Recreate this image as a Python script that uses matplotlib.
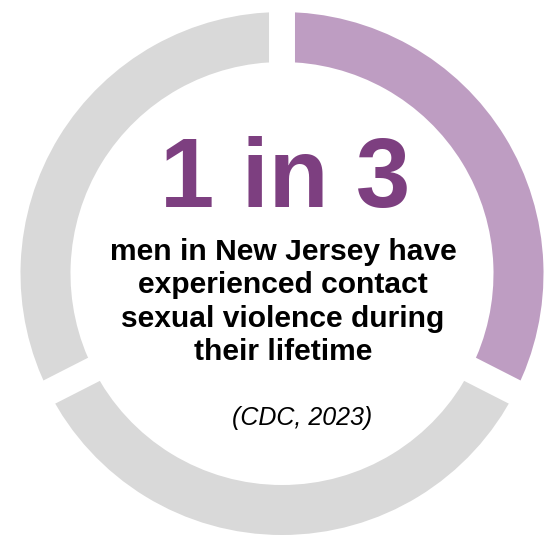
import matplotlib
matplotlib.use("Agg")
import matplotlib.pyplot as plt
import numpy as np

# ring segments, clockwise from 12 o'clock
shares = [0.325, 0.35, 0.325]
colors = ["#BE9DC2", "#D9D9D9", "#D9D9D9"]

headline = "1 in 3"
body = "men in New Jersey have\nexperienced contact\nsexual violence during\ntheir lifetime"
source = "(CDC, 2023)"

W, H = 555, 536
fig = plt.figure(figsize=(W / 100, H / 100), dpi=100)
ax = fig.add_axes([0, 0, 1, 1])

cx, cy = 282, H - 273.5
r_out, ring = 261.5, 50

ax.pie(shares, colors=colors, startangle=90, counterclock=False,
       radius=r_out, center=(cx, cy), frame=True,
       wedgeprops=dict(width=ring, linewidth=0))

# white gaps of constant width between segments
bounds = 90 - 360 * np.concatenate([[0], np.cumsum(shares)[:-1]])
for a in np.deg2rad(bounds):
    ax.plot([cx, cx + (r_out + 20) * np.cos(a)], [cy, cy + (r_out + 20) * np.sin(a)],
            color="white", lw=18.7, solid_capstyle="butt")

ax.set_xlim(0, W)
ax.set_ylim(0, H)
ax.set_aspect("equal")
ax.axis("off")

ax.text(285, H - 182, headline, ha="center", va="center", fontsize=70.5,
        fontweight="bold", color="#7D3F80", family="Liberation Sans")
ax.text(283, H - 302, body, ha="center", va="center", fontsize=21.6,
        fontweight="bold", color="black", family="Liberation Sans", linespacing=1.23)
ax.text(302, H - 418, source, ha="center", va="center", fontsize=18,
        style="italic", color="black", family="Liberation Sans")

fig.savefig("out.png", dpi=100)
